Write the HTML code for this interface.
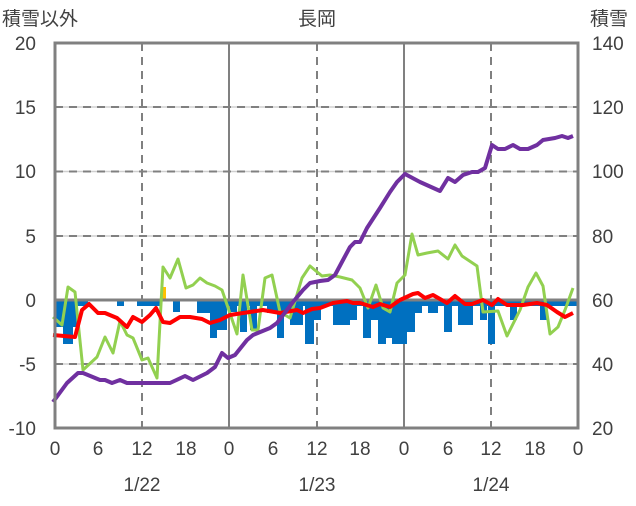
<!DOCTYPE html>
<html><head><meta charset="utf-8"><style>
body{margin:0;background:#fff;}
svg text{font-family:"Liberation Sans","Noto Sans CJK JP",sans-serif;font-size:19px;fill:#404040;}
</style></head><body>
<svg width="636" height="501" xmlns="http://www.w3.org/2000/svg">
<g stroke="#d0d0d0" stroke-width="1.5">
<line x1="55" y1="107" x2="578" y2="107"/><line x1="55" y1="171.5" x2="578" y2="171.5"/><line x1="55" y1="236" x2="578" y2="236"/><line x1="55" y1="364" x2="578" y2="364"/>
</g>
<g stroke="#808080" stroke-width="2" stroke-dasharray="8,6">
<line x1="55" y1="107" x2="578" y2="107"/><line x1="55" y1="171.5" x2="578" y2="171.5"/><line x1="55" y1="236" x2="578" y2="236"/><line x1="55" y1="364" x2="578" y2="364"/>
<line x1="142" y1="43" x2="142" y2="428"/><line x1="317" y1="43" x2="317" y2="428"/><line x1="491" y1="43" x2="491" y2="428"/>
</g>
<g stroke="#808080" stroke-width="2">
<line x1="229" y1="43" x2="229" y2="428"/><line x1="404" y1="43" x2="404" y2="428"/>
</g>
<g fill="#0070c0">
<rect x="55" y="301" width="33" height="5"/><rect x="117" y="301" width="7" height="5"/><rect x="137" y="301" width="23" height="5"/><rect x="173" y="301" width="7" height="5"/><rect x="197" y="301" width="381" height="5"/>
<rect x="55" y="301" width="9" height="26"/><rect x="63" y="301" width="10" height="43"/><rect x="73" y="301" width="4" height="26"/>
<rect x="173" y="301" width="7" height="11"/>
<rect x="197" y="301" width="13" height="12"/><rect x="210" y="301" width="7" height="37"/><rect x="217" y="301" width="10" height="29"/>
<rect x="230" y="301" width="7" height="11"/><rect x="240" y="301" width="7" height="31"/><rect x="250" y="301" width="7" height="29"/>
<rect x="267" y="301" width="10" height="12"/><rect x="277" y="301" width="7" height="37"/><rect x="284" y="301" width="6" height="12"/>
<rect x="290" y="301" width="13" height="24"/><rect x="305" y="301" width="9" height="43"/><rect x="314" y="301" width="7" height="19"/>
<rect x="333" y="301" width="17" height="24"/><rect x="350" y="301" width="7" height="19"/>
<rect x="363" y="301" width="8" height="37"/><rect x="371" y="301" width="7" height="19"/><rect x="378" y="301" width="8" height="43"/>
<rect x="386" y="301" width="6" height="37"/><rect x="392" y="301" width="15" height="43"/><rect x="407" y="301" width="8" height="31"/>
<rect x="415" y="301" width="7" height="12"/><rect x="428" y="301" width="10" height="12"/><rect x="444" y="301" width="8" height="31"/>
<rect x="458" y="301" width="15" height="24"/><rect x="480" y="301" width="7" height="19"/><rect x="488" y="301" width="7" height="43"/>
<rect x="510" y="301" width="7" height="19"/><rect x="540" y="301" width="7" height="19"/>
</g>
<rect x="161" y="287" width="5" height="13" fill="#ffc000"/>
<line x1="55" y1="300" x2="578" y2="300" stroke="#808080" stroke-width="3"/>
<polyline fill="none" stroke="#92d050" stroke-width="3" stroke-linejoin="round" points="53,317 62,325 68,287 75,292 83,370 97,357 105,337 113,353 120,321 127,335 133,338 142,360 148,358 157,378 163,267 170,278 178,259 186,288 193,285 200,278 207,283 215,286 222,290 237,334 243,275 252,330 258,330 265,278 272,275 280,312 290,318 302,278 310,266 322,276 330,275 340,277 352,280 360,288 368,308 376,285 383,308 390,312 397,283 405,275 412,234 418,255 427,253 438,251 448,259 455,245 462,256 477,266 483,312 498,311 507,336 520,310 528,287 536,273 543,286 550,334 558,327 565,310 573,288"/>
<polyline fill="none" stroke="#ff0000" stroke-width="4" stroke-linejoin="round" points="53,335 75,337 82,310 89,304 98,313 105,313 117,318 127,327 133,317 142,322 150,315 156,308 163,322 170,323 180,317 190,317 202,319 210,323 220,320 230,315 243,313 263,310 280,313 297,310 303,313 312,309 320,308 333,303 347,301 353,303 360,303 373,307 380,304 390,307 400,300 413,294 418,293 425,298 433,295 447,303 455,296 465,304 472,304 483,300 492,305 498,299 507,305 523,305 537,303 547,305 557,312 565,317 573,313"/>
<polyline fill="none" stroke="#7030a0" stroke-width="4" stroke-linejoin="round" points="53,402 67,383 78,373 83,373 100,380 105,380 112,383 120,380 127,383 170,383 185,376 193,380 207,373 215,367 222,353 228,358 235,355 247,340 253,335 270,328 277,323 293,302 303,290 310,283 320,281 328,280 335,275 343,260 350,247 355,242 360,242 367,228 380,208 390,192 397,182 405,174 420,182 440,191 448,178 455,182 463,175 472,172 478,172 485,168 492,145 498,149 505,149 513,145 520,149 528,149 537,145 543,140 555,138 562,136 568,138 573,136"/>
<rect x="55" y="43" width="523" height="385" fill="none" stroke="#808080" stroke-width="3"/>
<g text-anchor="end">
<text x="36" y="50">20</text><text x="36" y="114">15</text><text x="36" y="178">10</text><text x="36" y="243">5</text><text x="36" y="307">0</text><text x="36" y="371">-5</text><text x="36" y="435">-10</text>
</g>
<g text-anchor="start">
<text x="592" y="50">140</text><text x="592" y="114">120</text><text x="592" y="178">100</text><text x="592" y="243">80</text><text x="592" y="307">60</text><text x="592" y="371">40</text><text x="592" y="435">20</text>
</g>
<g text-anchor="middle">
<text x="55" y="455">0</text><text x="98" y="455">6</text><text x="142" y="455">12</text><text x="186" y="455">18</text><text x="229" y="455">0</text><text x="273" y="455">6</text><text x="317" y="455">12</text><text x="360" y="455">18</text><text x="404" y="455">0</text><text x="448" y="455">6</text><text x="491" y="455">12</text><text x="535" y="455">18</text><text x="578" y="455">0</text>
<text x="142" y="491">1/22</text><text x="317" y="491">1/23</text><text x="491" y="491">1/24</text>
<text x="317" y="25">長岡</text>
</g>
<text x="2" y="25">積雪以外</text>
<text x="590" y="25">積雪</text>
</svg>
</body></html>
